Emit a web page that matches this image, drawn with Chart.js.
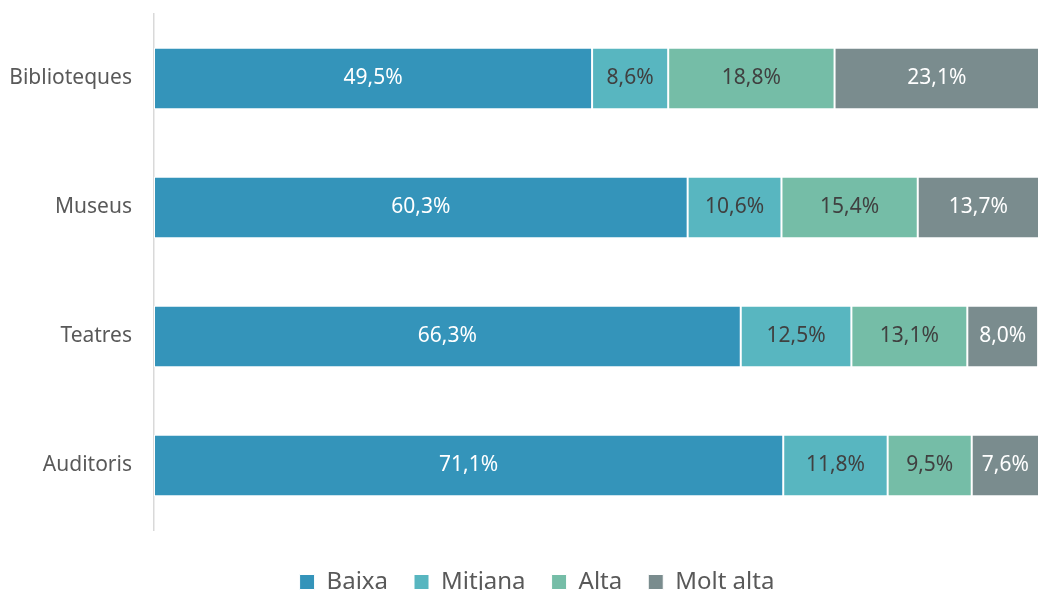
<!DOCTYPE html>
<html>
<head>
<meta charset="utf-8">
<script src="https://cdn.jsdelivr.net/npm/chart.js@4/dist/chart.umd.min.js"></script>
<style>
  html, body { margin: 0; padding: 0; background: #fff; overflow: hidden; }
  #wrap { position: relative; width: 1039px; height: 604px; }
</style>
</head>
<body>
<div id="wrap"><canvas id="bar-chart"></canvas></div>
<script>
const categories = ["Biblioteques", "Museus", "Teatres", "Auditoris"];
const seriesNames = ["Baixa", "Mitjana", "Alta", "Molt alta"];
const baixa = [49.5, 60.3, 66.3, 71.1];
const mitjana = [8.6, 10.6, 12.5, 11.8];
const alta = [18.8, 15.4, 13.1, 9.5];
const moltAlta = [23.1, 13.7, 8.0, 7.6];

const colors = ["#3494BA", "#58B6C0", "#75BDA7", "#7A8C8E"];
const labelColors = ["#ffffff", "#404040", "#404040", "#ffffff"];
const FONT = "'Noto Sans', sans-serif";

// draws the percentage in the middle of each segment
const valueLabels = {
  id: "valueLabels",
  afterDatasetsDraw(chart) {
    const ctx = chart.ctx;
    ctx.save();
    ctx.font = "21px " + FONT;
    ctx.textAlign = "center";
    ctx.textBaseline = "middle";
    chart.data.datasets.forEach((ds, i) => {
      chart.getDatasetMeta(i).data.forEach((bar, j) => {
        const v = ds.data[j];
        ctx.fillStyle = labelColors[i];
        ctx.fillText(v.toFixed(1).replace(".", ",") + "%", (bar.x + bar.base) / 2, bar.y);
      });
    });
    ctx.restore();
  }
};

// legend in the original is centred under the plot, not the whole canvas
const shiftLegend = {
  id: "shiftLegend",
  afterLayout(chart) {
    chart.legend.left += 30;
  }
};

const datasets = [baixa, mitjana, alta, moltAlta].map((d, i) => ({
  label: seriesNames[i],
  data: d,
  backgroundColor: colors[i],
  borderColor: "#ffffff",
  borderWidth: 1,
  borderSkipped: false,
  barPercentage: 0.475,
  categoryPercentage: 1
}));

new Chart(document.getElementById("bar-chart").getContext("2d"), {
  type: "bar",
  data: { labels: categories, datasets: datasets },
  options: {
    indexAxis: "y",
    responsive: true,
    maintainAspectRatio: false,
    animation: false,
    layout: { padding: { top: 14, right: -5, left: 0 } },
    scales: {
      x: {
        stacked: true,
        min: 0,
        max: 100,
        display: true,
        grid: { display: false },
        border: { display: false },
        ticks: { display: false },
        afterFit(scale) { scale.height = 14; }
      },
      y: {
        stacked: true,
        grid: { display: false, drawTicks: true, tickLength: 22 },
        border: { display: true, color: "#d9d9d9", width: 1.5 },
        ticks: { color: "#595959", font: { size: 21, family: FONT }, padding: 0 },
        afterFit(scale) { scale.width = 154; }
      }
    },
    plugins: {
      legend: {
        position: "bottom",
        labels: {
          color: "#595959",
          font: { size: 24, family: FONT },
          boxWidth: 15,
          boxHeight: 15,
          padding: 26
        }
      },
      tooltip: { enabled: false }
    }
  },
  plugins: [valueLabels, shiftLegend]
});
</script>
</body>
</html>
